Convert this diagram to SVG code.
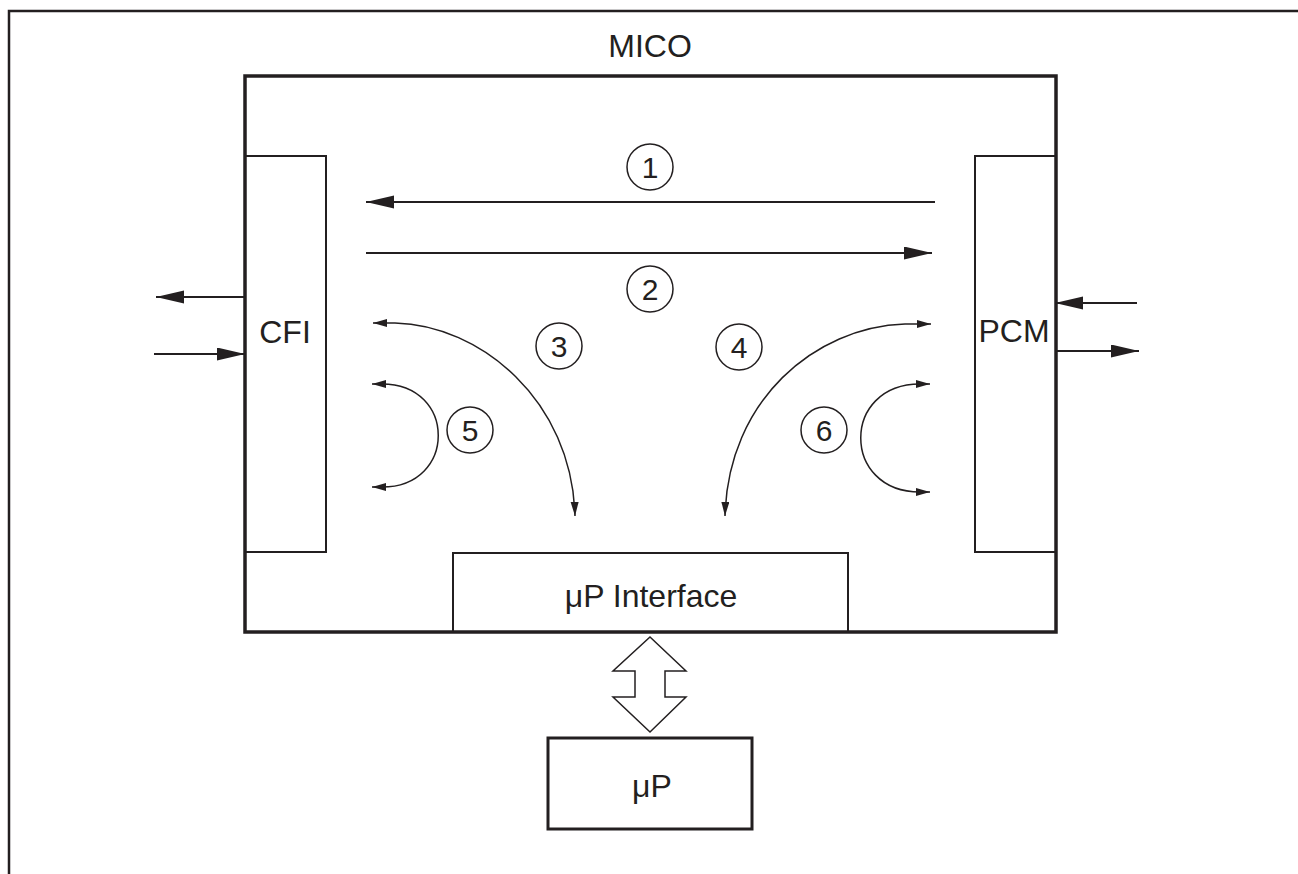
<svg xmlns="http://www.w3.org/2000/svg" width="1298" height="874" viewBox="0 0 1298 874">
<defs>
<style>
.txt{font-family:"Liberation Sans",Arial,sans-serif;fill:#231f20}
.lbl{font-size:32px;text-anchor:middle}
.num{font-size:30px;text-anchor:middle}
.ln{stroke:#231f20;stroke-width:2.2;fill:none}
.circ{stroke:#231f20;stroke-width:1.5;fill:none}
</style>
<marker id="big" markerUnits="userSpaceOnUse" markerWidth="30" markerHeight="14" refX="28" refY="6.5" orient="auto-start-reverse" viewBox="0 0 30 14">
<path d="M0,0 L28,6.5 L0,13 Z" fill="#231f20"/>
</marker>
<marker id="sm" markerUnits="userSpaceOnUse" markerWidth="16" markerHeight="10" refX="14" refY="4" orient="auto-start-reverse" viewBox="0 0 16 10">
<path d="M0,0 L14,4 L0,8 Z" fill="#231f20"/>
</marker>
</defs>
<rect width="1298" height="874" fill="#fff"/>
<g id="frame">
<path d="M9,874 L9,11 L1298,11" stroke="#231f20" stroke-width="2.5" fill="none"/>
</g>
<g id="mico">
<rect x="245" y="76" width="811" height="556" fill="none" stroke="#231f20" stroke-width="3.5"/>
<text class="txt lbl" x="650" y="57">MICO</text>
</g>
<g id="cfi">
<rect x="245" y="156" width="81" height="396" fill="none" stroke="#231f20" stroke-width="2"/>
<text class="txt lbl" x="285" y="343">CFI</text>
</g>
<g id="pcm">
<rect x="975" y="156" width="81" height="396" fill="none" stroke="#231f20" stroke-width="2"/>
<text class="txt lbl" x="1014" y="342">PCM</text>
</g>
<g id="upif">
<rect x="453" y="553" width="395" height="79" fill="none" stroke="#231f20" stroke-width="2"/>
<text class="txt lbl" x="651" y="607">μP Interface</text>
</g>
<g id="up">
<rect x="548" y="738" width="204" height="91" fill="none" stroke="#231f20" stroke-width="3"/>
<text class="txt lbl" x="652" y="797">μP</text>
</g>
<g id="labels">
<circle class="circ" cx="650" cy="167" r="23"/><text class="txt num" x="650" y="178">1</text>
<circle class="circ" cx="650" cy="289" r="23"/><text class="txt num" x="650" y="300">2</text>
<circle class="circ" cx="559" cy="346" r="23"/><text class="txt num" x="559" y="357">3</text>
<circle class="circ" cx="739" cy="347" r="23"/><text class="txt num" x="739" y="358">4</text>
<circle class="circ" cx="470" cy="430" r="23"/><text class="txt num" x="470" y="441">5</text>
<circle class="circ" cx="824" cy="430" r="23"/><text class="txt num" x="824" y="441">6</text>
</g>
<g id="connectors">
<line class="ln" x1="935" y1="202" x2="366" y2="202" marker-end="url(#big)"/>
<line class="ln" x1="366" y1="253" x2="932" y2="253" marker-end="url(#big)"/>
<line class="ln" x1="245" y1="297" x2="156" y2="297" marker-end="url(#big)"/>
<line class="ln" x1="154" y1="354" x2="245" y2="354" marker-end="url(#big)"/>
<line class="ln" x1="1137" y1="303" x2="1055" y2="303" marker-end="url(#big)"/>
<line class="ln" x1="1056" y1="351" x2="1139" y2="351" marker-end="url(#big)"/>
<path class="ln" style="stroke-width:1.5" d="M373,323 L395,323 C480,325 572,400 575,516" marker-start="url(#sm)" marker-end="url(#sm)"/>
<path class="ln" style="stroke-width:1.5" d="M931,324 L905,324 C815,327 728,400 725,516" marker-start="url(#sm)" marker-end="url(#sm)"/>
<path class="ln" style="stroke-width:1.5" d="M372,384 L382,384 C457,384 457,487 382,487 L372,487" marker-start="url(#sm)" marker-end="url(#sm)"/>
<path class="ln" style="stroke-width:1.5" d="M930,384 L920,384 C841,384 841,492 920,492 L930,492" marker-start="url(#sm)" marker-end="url(#sm)"/>
<path d="M650,637 L686,671 L665,671 L665,697 L686,697 L650,732 L613,697 L635,697 L635,671 L613,671 Z" fill="#fff" stroke="#231f20" stroke-width="1.5"/>
</g>
</svg>
